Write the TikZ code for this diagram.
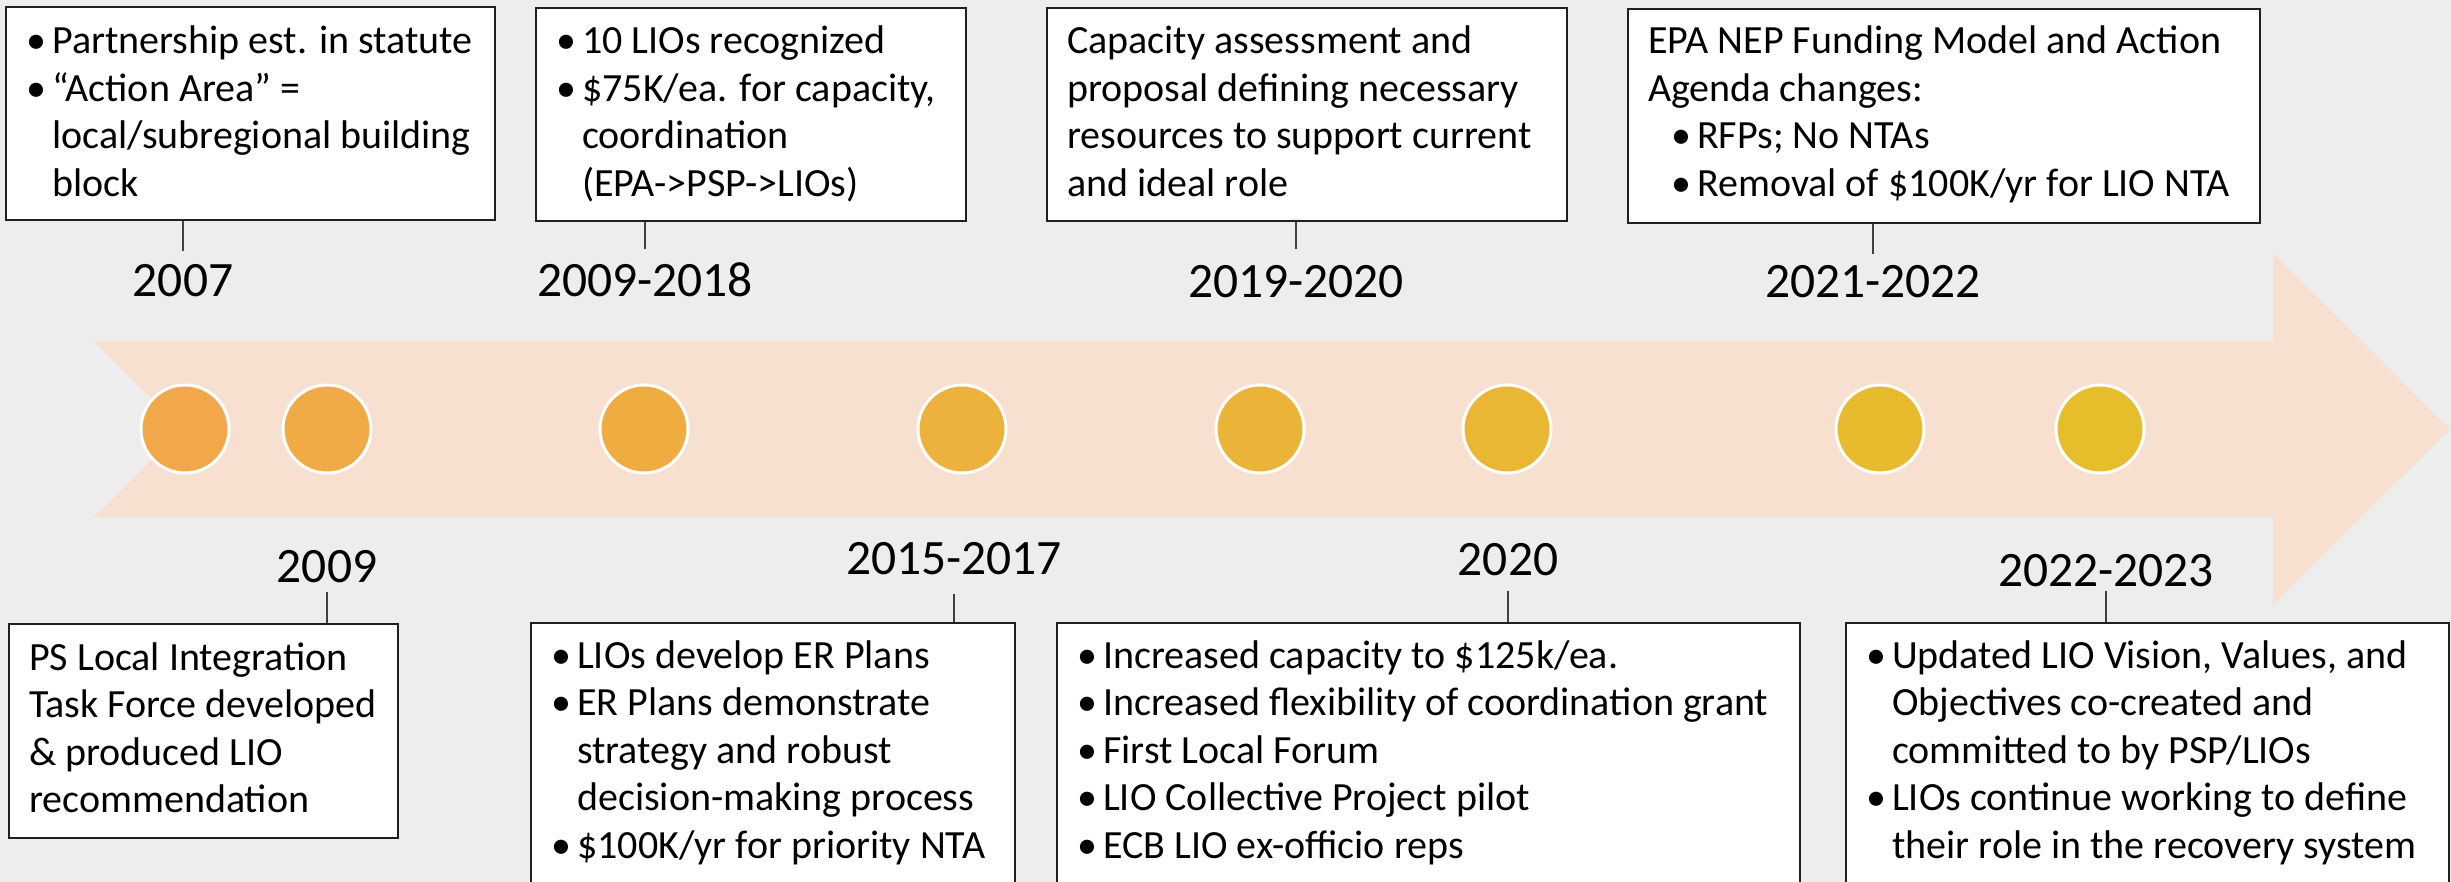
\documentclass[tikz,border=0pt]{standalone}
\usepackage{fontspec}
\setmainfont{Carlito}
\definecolor{bgc}{HTML}{EDEDED}
\definecolor{arrowc}{HTML}{F8E0D1}
\definecolor{dotA}{HTML}{F2A74A}
\definecolor{dotB}{HTML}{E6BE2B}
\newenvironment{blist}{\begin{tabular}{@{}p{26pt}@{}l@{}}}{\end{tabular}}
\newenvironment{plist}{\begin{tabular}{@{}l@{}}}{\end{tabular}}
\newenvironment{slist}{\begin{tabular}{@{\hspace{23pt}}p{26pt}@{}l@{}}}{\end{tabular}}
\newcommand\whole[1]{\multicolumn{2}{@{}l@{}}{#1}}
\begin{document}
\begin{tikzpicture}[x=1pt,y=-1pt,
  box/.style={draw=black!88, line width=2.2pt, fill=white, inner sep=0pt, anchor=north west},
  txt/.style={anchor=north west, inner sep=0pt, font=\fontsize{40}{47.5}\selectfont},
  yearlbl/.style={font=\fontsize{49.5}{55}\selectfont, anchor=base, inner xsep=0pt},
  conn/.style={draw=black!75, line width=1.3pt},
  dot/.style={circle, draw=white, line width=3pt, minimum size=88pt, inner sep=0pt}]
\useasboundingbox (0,0) rectangle (2451,882);
\clip (0,0) rectangle (2451,882);
\fill[bgc] (0,0) rectangle (2451,882);
% timeline arrow
\fill[arrowc] (94,341) -- (2273,341) -- (2273,253) -- (2450,429) -- (2273,605)
  -- (2273,517) -- (94,517) -- (182,429) -- cycle;
% dots
\foreach \x/\p [count=\i] in {185/0,327/14,644/28,962/43,1260/57,1507/71,1880/86,2100/100}
  \node[dot, fill=dotB!\p!dotA] (d\i) at (\x,429) {};
% top boxes
\node[box, minimum width=489pt, minimum height=213pt] (b1) at (5,6) {};
\node[box, minimum width=430pt, minimum height=213pt] (b2) at (535,7) {};
\node[box, minimum width=520pt, minimum height=213pt] (b3) at (1046,7) {};
\node[box, minimum width=632pt, minimum height=214pt] (b4) at (1627,8) {};
% bottom boxes
\node[box, minimum width=389pt, minimum height=214pt] (b5) at (8,623) {};
\node[box, minimum width=484pt, minimum height=320pt] (b6) at (530,622) {};
\node[box, minimum width=743pt, minimum height=320pt] (b7) at (1056,622) {};
\node[box, minimum width=603pt, minimum height=320pt] (b8) at (1845,622) {};
% texts
\node[txt] (t1) at (26,20.5) {\begin{blist}
• & Partnership est. in statute\\
• & “Action Area” =\\
  & local/subregional building\\
  & block
\end{blist}};
\node[txt] (t2) at (556,20.5) {\begin{blist}
• & 10 LIOs recognized\\
• & \$75K/ea. for capacity,\\
  & coordination\\
  & (EPA->PSP->LIOs)
\end{blist}};
\node[txt] (t3) at (1067,20.5) {\begin{plist}
Capacity assessment and\\
proposal defining necessary\\
resources to support current\\
and ideal role
\end{plist}};
\node[txt] (t4) at (1648,20.5) {\begin{slist}
\whole{EPA NEP Funding Model and Action}\\
\whole{Agenda changes:}\\
• & RFPs; No NTAs\\
• & Removal of \$100K/yr for LIO NTA
\end{slist}};
\node[txt] (t5) at (29,636.75) {\begin{plist}
PS Local Integration\\
Task Force developed\\
\& produced LIO\\
recommendation
\end{plist}};
\node[txt] (t6) at (551,634.75) {\begin{blist}
• & LIOs develop ER Plans\\
• & ER Plans demonstrate\\
  & strategy and robust\\
  & decision-making process\\
• & \$100K/yr for priority NTA
\end{blist}};
\node[txt] (t7) at (1077,634.75) {\begin{blist}
• & Increased capacity to \$125k/ea.\\
• & Increased flexibility of coordination grant\\
• & First Local Forum\\
• & LIO Collective Project pilot\\
• & ECB LIO ex-officio reps
\end{blist}};
\node[txt] (t8) at (1866,634.75) {\begin{blist}
• & Updated LIO Vision, Values, and\\
  & Objectives co-created and\\
  & committed to by PSP/LIOs\\
• & LIOs continue working to define\\
  & their role in the recovery system
\end{blist}};
% year labels
\node[yearlbl, inner ysep=13.4pt] (l1) at (183,297) {2007};
\node[yearlbl, inner ysep=14.4pt] (l2) at (645,297) {2009-2018};
\node[yearlbl, inner ysep=16.4pt] (l3) at (1296,298) {2019-2020};
\node[yearlbl, inner ysep=11.4pt] (l4) at (1873,298) {2021-2022};
\node[yearlbl, inner ysep=9pt] (l5) at (327,582) {2009};
\node[yearlbl, inner ysep=19pt] (l6) at (954,574) {2015-2017};
\node[yearlbl, inner ysep=15pt] (l7) at (1508,575) {2020};
\node[yearlbl, inner ysep=4pt] (l8) at (2106,586) {2022-2023};
% connectors
\draw[conn] (l1.north) -- (l1.north |- b1.south);
\draw[conn] (l2.north) -- (l2.north |- b2.south);
\draw[conn] (l3.north) -- (l3.north |- b3.south);
\draw[conn] (l4.north) -- (l4.north |- b4.south);
\draw[conn] (l5.south) -- (l5.south |- b5.north);
\draw[conn] (l6.south) -- (l6.south |- b6.north);
\draw[conn] (l7.south) -- (l7.south |- b7.north);
\draw[conn] (l8.south) -- (l8.south |- b8.north);
\end{tikzpicture}
\end{document}
